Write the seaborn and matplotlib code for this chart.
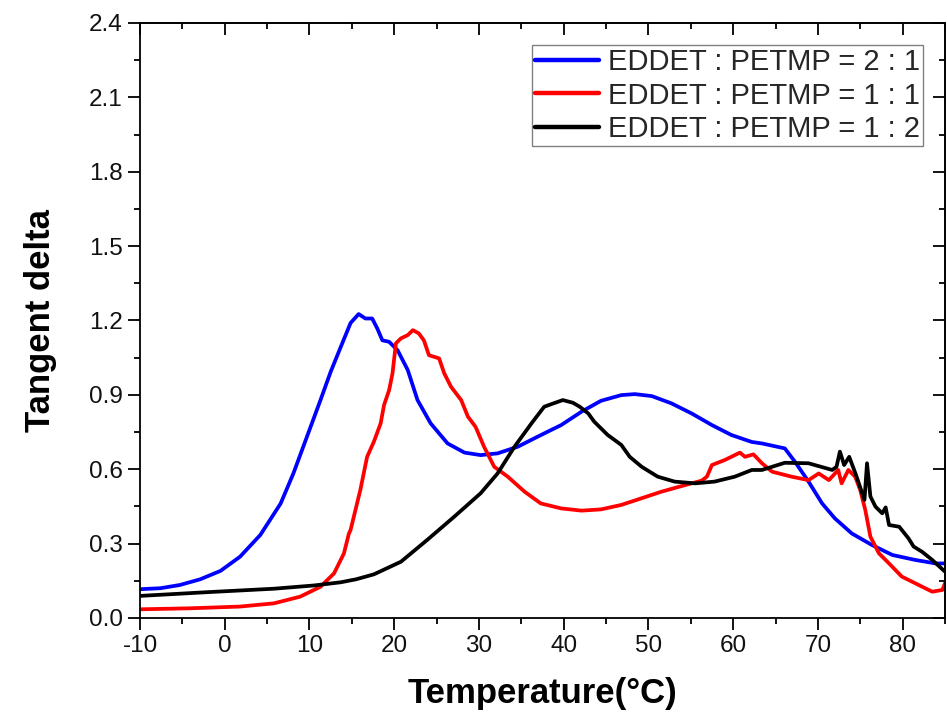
import numpy as np
import pandas as pd
import matplotlib
matplotlib.use("Agg")
import matplotlib.pyplot as plt
import seaborn as sns
from matplotlib.ticker import AutoMinorLocator

# --- data ---
labels = ["EDDET : PETMP = 2 : 1", "EDDET : PETMP = 1 : 1", "EDDET : PETMP = 1 : 2"]
colors = ["#0000ff", "#ff0000", "#000000"]

blue_x = [-10, -7.6, -5.3, -2.9, -0.5, 1.8, 4.2, 6.6, 8.1, 9.7, 11.3, 12.5, 13.7, 14.85,
          15.8, 16.6, 17.4, 18.0, 18.6, 19.4, 20.4, 21.6, 22.75, 24.3, 26.3, 28.3, 30.2,
          32.2, 34.6, 36.5, 38.5, 39.7, 42.1, 44.4, 46.8, 48.4, 50.4, 52.7, 55.1, 57.5,
          59.8, 62.2, 63.4, 66.1, 67.3, 68.9, 70.5, 72.0, 74.0, 76.4, 78.8, 81.5, 83.9, 85.0]
blue_y = [0.116, 0.120, 0.133, 0.156, 0.19, 0.247, 0.335, 0.462, 0.583, 0.731, 0.879, 0.993,
          1.094, 1.19, 1.226, 1.208, 1.208, 1.168, 1.12, 1.114, 1.08, 1.0, 0.879, 0.785, 0.704,
          0.667, 0.657, 0.664, 0.691, 0.724, 0.758, 0.778, 0.832, 0.876, 0.899, 0.903, 0.895,
          0.866, 0.825, 0.778, 0.738, 0.71, 0.704, 0.684, 0.63, 0.55, 0.462, 0.402, 0.341,
          0.294, 0.254, 0.234, 0.22, 0.22]

red_x = [-10, -4.1, 1.8, 5.8, 8.9, 11.3, 12.9, 14.06, 14.65, 14.85, 16.0, 16.8, 17.6, 18.4,
         18.8, 19.4, 19.8, 20.2, 20.8, 21.6, 22.2, 22.9, 23.5, 24.1, 25.3, 25.9, 26.7, 27.9,
         28.7, 29.6, 30.6, 31.8, 33.4, 35.4, 37.3, 39.7, 42.1, 44.4, 46.8, 49.2, 51.5, 53.9,
         56.3, 56.9, 57.5, 59.0, 60.8, 61.4, 62.4, 63.4, 64.6, 66.9, 68.9, 70.1, 71.3, 72.4,
         72.8, 73.6, 74.4, 75.0, 75.6, 76.2, 77.2, 78.4, 79.9, 81.9, 83.5, 84.7, 85.0]
red_y = [0.035, 0.039, 0.046, 0.059, 0.086, 0.126, 0.18, 0.26, 0.34, 0.355, 0.516, 0.65,
         0.711, 0.785, 0.859, 0.919, 0.987, 1.108, 1.128, 1.141, 1.161, 1.148, 1.12, 1.06,
         1.047, 0.987, 0.933, 0.879, 0.812, 0.771, 0.691, 0.61, 0.57, 0.509, 0.462, 0.442,
         0.433, 0.438, 0.456, 0.483, 0.509, 0.532, 0.554, 0.57, 0.617, 0.637, 0.667, 0.65,
         0.66, 0.624, 0.59, 0.57, 0.556, 0.583, 0.556, 0.597, 0.543, 0.597, 0.57, 0.516,
         0.435, 0.328, 0.261, 0.22, 0.167, 0.133, 0.106, 0.113, 0.14]

black_x = [-10, -2.1, 5.8, 10.5, 13.7, 15.5, 17.6, 20.8, 23.9, 27.1, 30.2, 32.2, 34.2, 36.2,
           37.7, 38.5, 39.9, 41.1, 41.9, 42.9, 43.6, 45.2, 46.8, 47.8, 49.2, 51.1, 53.1,
           55.5, 57.8, 60.2, 62.2, 63.4, 66.1, 68.9, 71.7, 72.2, 72.6, 73.1, 73.7, 74.5,
           75.5, 75.8, 76.2, 76.8, 77.6, 78.0, 78.4, 79.6, 80.7, 81.3, 82.3, 83.5, 85.0]
black_y = [0.089, 0.104, 0.118, 0.131, 0.144, 0.156, 0.176, 0.227, 0.315, 0.409, 0.503, 0.583,
           0.691, 0.785, 0.852, 0.862, 0.879, 0.868, 0.852, 0.825, 0.792, 0.738, 0.698, 0.65,
           0.61, 0.57, 0.55, 0.543, 0.55, 0.57, 0.597, 0.597, 0.626, 0.624, 0.597, 0.61, 0.671,
           0.617, 0.65, 0.577, 0.476, 0.624, 0.49, 0.449, 0.422, 0.446, 0.375, 0.368, 0.321,
           0.288, 0.267, 0.234, 0.187]

xticks = [-10, 0, 10, 20, 30, 40, 50, 60, 70, 80]
yticks = [0.0, 0.3, 0.6, 0.9, 1.2, 1.5, 1.8, 2.1, 2.4]

df = pd.concat([
    pd.DataFrame({"T": blue_x, "tan": blue_y, "ratio": labels[0]}),
    pd.DataFrame({"T": red_x, "tan": red_y, "ratio": labels[1]}),
    pd.DataFrame({"T": black_x, "tan": black_y, "ratio": labels[2]}),
], ignore_index=True)

sns.set_theme(style="white")
plt.rcParams["font.family"] = ["Liberation Sans", "DejaVu Sans"]

fig = plt.figure(figsize=(9.48, 7.21), dpi=100)
ax = fig.add_axes([0.1477, 0.1429, 0.8491, 0.8252])

sns.lineplot(data=df, x="T", y="tan", hue="ratio", hue_order=labels,
             palette=dict(zip(labels, colors)), linewidth=2.7, sort=False,
             estimator=None, ax=ax)

ax.set_xlim(-10, 85)
ax.set_ylim(0, 2.4)
ax.set_xticks(xticks)
ax.set_xticklabels([str(v) for v in xticks])
ax.set_yticks(yticks)
ax.set_yticklabels([f"{v:.1f}" for v in yticks])
ax.xaxis.set_minor_locator(AutoMinorLocator(2))
ax.yaxis.set_minor_locator(AutoMinorLocator(2))
ax.tick_params(which="major", direction="out", length=8.5, width=1.3, labelsize=17.5,
               pad=4, color="black", labelcolor="#111111",
               bottom=True, left=True, top=False, right=False)
ax.tick_params(which="minor", direction="out", length=4.5, width=1.3,
               color="black", bottom=True, left=True, top=False, right=False)

for s in ax.spines.values():
    s.set_visible(True)
    s.set_color("black")
    s.set_linewidth(1.3)

# inward ticks on top and right
secx = ax.secondary_xaxis("top")
secx.set_xticks(xticks)
secx.xaxis.set_minor_locator(AutoMinorLocator(2))
secx.tick_params(which="major", direction="in", length=8.5, width=1.3, labeltop=False, color="black")
secx.tick_params(which="minor", direction="in", length=4.5, width=1.3, color="black")
secx.spines["top"].set_linewidth(1.3)
secy = ax.secondary_yaxis("right")
secy.set_yticks(yticks)
secy.yaxis.set_minor_locator(AutoMinorLocator(2))
secy.tick_params(which="major", direction="in", length=8.5, width=1.3, labelright=False, color="black")
secy.tick_params(which="minor", direction="in", length=4.5, width=1.3, color="black")
secy.spines["right"].set_linewidth(1.3)

ax.set_xlabel("Temperature(\u00b0C)", fontsize=25, fontweight="bold", labelpad=14, color="black")
ax.set_ylabel("Tangent delta", fontsize=25, fontweight="bold", labelpad=23, color="black")

leg = ax.legend(loc="upper right", fontsize=21, frameon=True, fancybox=False,
                edgecolor="#808080", framealpha=1, handlelength=2.2, handletextpad=0.3,
                labelspacing=0.2, borderpad=0.1, borderaxespad=0.75)
leg.get_frame().set_linewidth(1.0)
for line in leg.get_lines():
    line.set_linewidth(3.2)

fig.savefig("out.png", dpi=100)
